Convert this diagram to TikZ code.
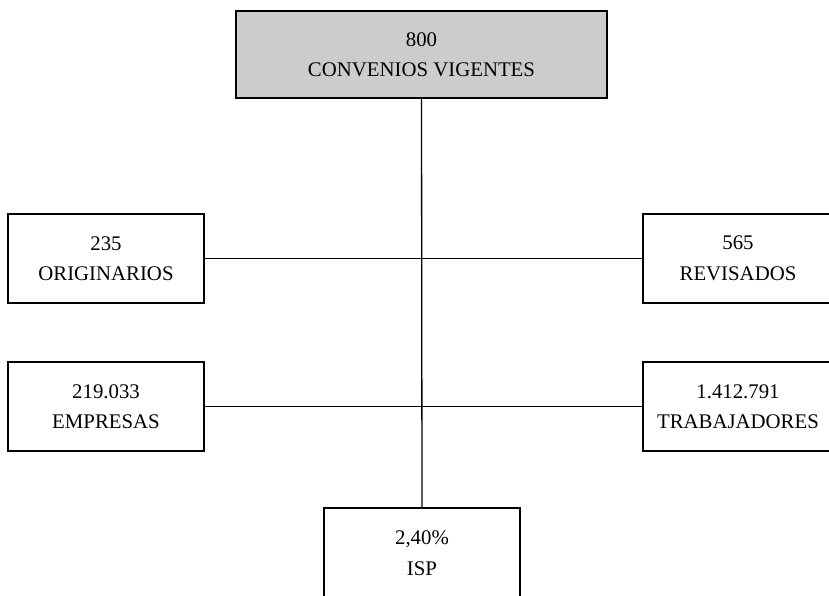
\documentclass[tikz,border=0pt]{standalone}
\usepackage{fontspec}
\setmainfont{Liberation Serif}
\usepackage{tikz}
\tikzset{
	caja/.style={draw,line width=1.2pt,align=center,inner sep=0pt,
		minimum width=196pt,minimum height=89pt,
		font=\fontsize{20.8}{30.5}\selectfont},
	total/.style={caja,fill=black!20,minimum width=371pt,minimum height=87pt},
	linea/.style={line width=1.3pt}
}

\begin{document}
\begin{tikzpicture}[x=1pt,y=-1pt]
	\clip (0,0) rectangle (829,595);
	\useasboundingbox (0,0) rectangle (829,595);
	\node[total] (conv) at (421.5,54.5) {800\\CONVENIOS VIGENTES};
	\node[caja] (orig) at (106,258.5) {235\\ORIGINARIOS};
	\node[caja,minimum width=190pt] (rev) at (738,258.5) {565\\REVISADOS};
	\node[caja] (emp) at (106,406.5) {219.033\\EMPRESAS};
	\node[caja,minimum width=190pt] (trab) at (738,406.5) {1.412.791\\TRABAJADORES};
	\node[caja,minimum height=90pt] (isp) at (422,553) {2,40\%\\ISP};
	\draw[linea] (conv.south) -- (isp.north);
	\draw[linea] (orig.east) -- (rev.west);
	\draw[linea] (emp.east) -- (trab.west);
\end{tikzpicture}
\end{document}
